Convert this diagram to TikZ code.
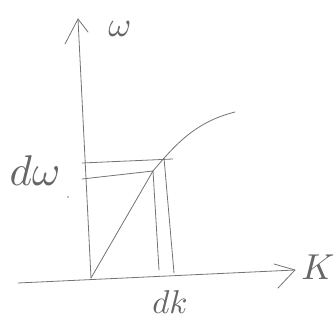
\documentclass[tikz,border=0pt]{standalone}
\usepackage{graphicx}
\begin{document}
\begin{tikzpicture}[x=1pt,y=-1pt,
  pencil/.style={draw=black!55,line width=0.8pt,line cap=round,line join=round},
  lbl/.style={text=black!60,inner sep=0pt}]
\useasboundingbox (0,0) rectangle (335,321);
% axes
\coordinate (O) at (91,278);
\coordinate (Ytop) at (78,19);
\coordinate (Xl) at (18,283);
\coordinate (Xr) at (295,270);
\draw[pencil] (O) -- (Ytop);
\draw[pencil] (65,44) -- (Ytop) -- (88,32);
\draw[pencil] (Xl) -- (Xr);
\draw[pencil] (274,264) -- (Xr) -- (278,288);
% chord and curve
\coordinate (P) at (153,171);
\coordinate (Q) at (164,158);
\draw[pencil] (O) -- (P);
\draw[pencil] (P) .. controls (175,145) and (195,122) .. (235,112);
% horizontal guides
\draw[pencil] (82,163) -- (173,159);
\draw[pencil] (82,179) -- (P);
% vertical guides
\draw[pencil] (P) -- (159,270);
\draw[pencil] (Q) -- (174,273);
% labels
\node[lbl] (w) at (120,29) {\scalebox{3.5}{$\omega$}};
\node[lbl] (dw) at (35,171) {\scalebox{4.3}{$d\omega$}};
\node[lbl] (k) at (318,267) {\scalebox{3.6}{$K$}};
\node[lbl] (dk) at (170,302) {\scalebox{3.3}{$dk$}};
\fill[black!50] (68,197) circle (0.9);
\end{tikzpicture}
\end{document}
